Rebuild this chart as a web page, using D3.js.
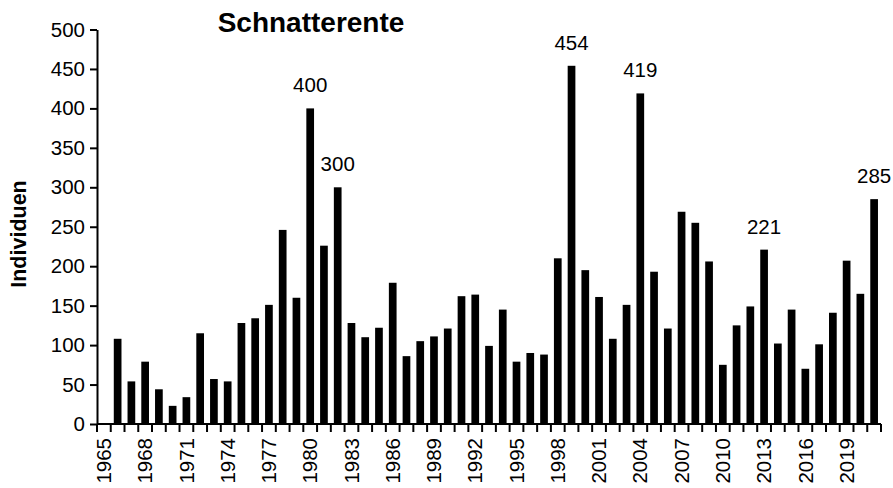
<!DOCTYPE html>
<html>
<head>
<meta charset="utf-8">
<script src="https://cdn.jsdelivr.net/npm/d3@7"></script>
<style>
  body { margin: 0; background: #fff; }
  svg { display: block; font-family: Arial, "Liberation Sans", sans-serif; }
</style>
</head>
<body>
<svg id="chart"></svg>
<script>
// Schnatterente counts per year (1965 has no value)
const years = d3.range(1965, 2022);
const counts = [
  null, 108, 54, 79, 44, 23, 34, 115, 57, 54,
  128, 134, 151, 246, 160, 400, 226, 300, 128, 110,
  122, 179, 86, 105, 111, 121, 162, 164, 99, 145,
  79, 90, 88, 210, 454, 195, 161, 108, 151, 419,
  193, 121, 269, 255, 206, 75, 125, 149, 221, 102,
  145, 70, 101, 141, 207, 165, 285
];
const labelledYears = [1980, 1982, 1999, 2004, 2013, 2021];
const yTicks = [0, 50, 100, 150, 200, 250, 300, 350, 400, 450, 500];
const xTickYears = d3.range(1965, 2022, 3);

const width = 893, height = 488;
const margin = { top: 29.5, right: 12, bottom: 64, left: 97 };

const data = years.map((y, i) => ({ year: y, value: counts[i] }));

const svg = d3.select('#chart').attr('width', width).attr('height', height);

const x = d3.scaleBand()
  .domain(years)
  .range([margin.left, width - margin.right])
  .paddingInner(0.44)
  .paddingOuter(0.22);

const yScale = d3.scaleLinear()
  .domain([0, 500])
  .range([height - margin.bottom, margin.top]);

// bars
svg.append('g')
  .selectAll('rect')
  .data(data.filter(d => d.value != null))
  .join('rect')
  .attr('x', d => x(d.year))
  .attr('width', x.bandwidth())
  .attr('y', d => yScale(d.value))
  .attr('height', d => yScale(0) - yScale(d.value))
  .attr('fill', '#000');

// value labels on the highest bars
svg.append('g')
  .selectAll('text')
  .data(data.filter(d => labelledYears.includes(d.year)))
  .join('text')
  .attr('x', d => x(d.year) + x.bandwidth() / 2)
  .attr('y', d => yScale(d.value) - 16)
  .attr('text-anchor', 'middle')
  .style('font-size', '20.5px')
  .text(d => d.value);

// y axis
const yAxis = svg.append('g')
  .attr('transform', `translate(${margin.left},0)`)
  .call(d3.axisLeft(yScale).tickValues(yTicks).tickSize(7).tickPadding(5).tickSizeOuter(0));
yAxis.select('.domain').attr('stroke-width', 2);
yAxis.selectAll('.tick line').attr('stroke-width', 2);
yAxis.selectAll('.tick text').style('font-size', '20.5px').attr('fill', '#000');

// x axis: ticks between categories, labels every 3 years
const step = x.step();
const xAxis = svg.append('g')
  .attr('transform', `translate(0,${yScale(0)})`);
xAxis.append('line')
  .attr('x1', margin.left).attr('x2', width - margin.right)
  .attr('stroke', '#000').attr('stroke-width', 2);
xAxis.selectAll('line.tick')
  .data(years.concat([2022]))
  .join('line')
  .attr('class', 'tick')
  .attr('x1', d => margin.left + (d - 1965) * step)
  .attr('x2', d => margin.left + (d - 1965) * step)
  .attr('y1', 0).attr('y2', 8)
  .attr('stroke', '#000').attr('stroke-width', 2);
xAxis.selectAll('text')
  .data(xTickYears)
  .join('text')
  .attr('transform', d => `translate(${x(d) + x.bandwidth() / 2},14) rotate(-90)`)
  .attr('text-anchor', 'end')
  .attr('dy', '0.35em')
  .style('font-size', '20.5px')
  .text(d => d);

// axis title
svg.append('text')
  .attr('transform', 'translate(26,234) rotate(-90)')
  .attr('text-anchor', 'middle')
  .style('font-size', '21.5px')
  .style('font-weight', 'bold')
  .text('Individuen');

// chart title
svg.append('text')
  .attr('x', 311)
  .attr('y', 32)
  .attr('text-anchor', 'middle')
  .style('font-size', '28px')
  .style('font-weight', 'bold')
  .text('Schnatterente');
</script>
</body>
</html>
